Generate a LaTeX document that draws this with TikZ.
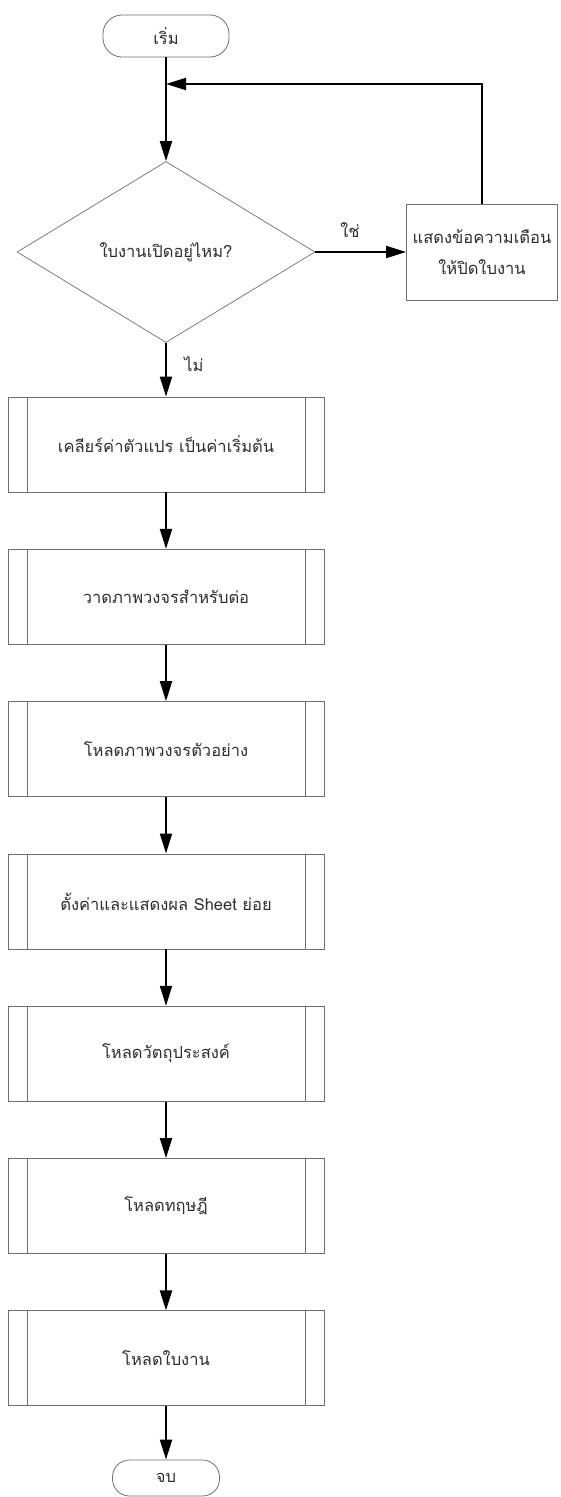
\documentclass[tikz,border=0pt]{standalone}
\usepackage{fontspec}
\newfontfamily\thaifont[Script=Thai]{Loma}
\usetikzlibrary{arrows.meta,shapes.geometric}

\definecolor{edgegray}{RGB}{110,110,110}
\definecolor{inkgray}{RGB}{45,45,45}

\tikzset{
  txt/.style={font=\thaifont\fontsize{16.5}{31}\selectfont, text=inkgray},
  term/.style={txt, draw=edgegray, line width=0.8pt, rectangle,
    rounded corners=19pt, minimum width=126pt, minimum height=42pt, inner sep=0pt},
  decision/.style={txt, draw=edgegray, line width=0.7pt, diamond,
    minimum width=298pt, minimum height=181pt, inner sep=0pt},
  procbox/.style={txt, draw=edgegray, line width=0.8pt, rectangle,
    minimum width=151pt, minimum height=96pt, align=center, inner sep=0pt},
  subproc/.style={txt, draw=edgegray, line width=0.8pt, rectangle,
    minimum width=316pt, minimum height=95pt, inner sep=0pt,
    path picture={
      \draw[edgegray, line width=0.8pt]
        ([xshift=19pt]path picture bounding box.north west) --
        ([xshift=19pt]path picture bounding box.south west);
      \draw[edgegray, line width=0.8pt]
        ([xshift=-19pt]path picture bounding box.north east) --
        ([xshift=-19pt]path picture bounding box.south east);
    }},
  flow/.style={line width=2pt, black,
    -{Triangle[length=20pt,width=12pt]}},
  lbl/.style={txt, inner sep=0pt}
}

\begin{document}
\begin{tikzpicture}[x=1pt, y=-1pt]
  \useasboundingbox (0,0) rectangle (560,1497);

  % start and decision
  \node[term] (start) at (166,36) {เริ่ม};
  \node[decision] (open) at (166,252) {ใบงานเปิดอยู่ไหม?};
  \node[procbox] (warn) at (482,252) {แสดงข้อความเตือน\\ให้ปิดใบงาน};

  % predefined processes
  \node[subproc] (p1) at (166,444.5) {เคลียร์ค่าตัวแปร เป็นค่าเริ่มต้น};
  \node[subproc] (p2) at (166,596.8) {วาดภาพวงจรสำหรับต่อ};
  \node[subproc] (p3) at (166,749.1) {โหลดภาพวงจรตัวอย่าง};
  \node[subproc] (p4) at (166,901.4) {ตั้งค่าและแสดงผล Sheet ย่อย};
  \node[subproc] (p5) at (166,1053.7) {โหลดวัตถุประสงค์};
  \node[subproc] (p6) at (166,1206) {โหลดทฤษฎี};
  \node[subproc] (p7) at (166,1358.3) {โหลดใบงาน};

  \node[term, minimum width=107pt, minimum height=36pt, rounded corners=17pt]
    (stop) at (166,1478) {จบ};

  % return path from the warning box
  \coordinate (loop) at (166,84);

  % connectors
  \draw[line width=2pt] (start.south) -- (loop);
  \draw[flow] (loop) -- (open.north);
  \draw[flow] (warn.north) |- (loop);
  \draw[flow] (open.east) -- (warn.west);
  \draw[flow] (open.south) -- (p1.north);
  \draw[flow] (p1) -- (p2);
  \draw[flow] (p2) -- (p3);
  \draw[flow] (p3) -- (p4);
  \draw[flow] (p4) -- (p5);
  \draw[flow] (p5) -- (p6);
  \draw[flow] (p6) -- (p7);
  \draw[flow] (p7.south) -- (stop.north);

  % branch labels
  \node[lbl] (yes) at (350,230) {ใช่};
  \node[lbl] (no) at (194,364) {ไม่};
\end{tikzpicture}
\end{document}
